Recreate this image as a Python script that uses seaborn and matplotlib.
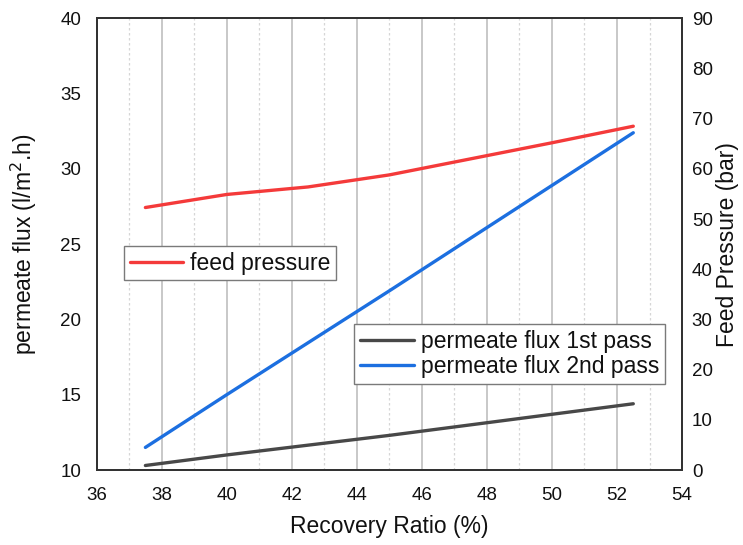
import numpy as np
import pandas as pd
import matplotlib
matplotlib.use("Agg")
import matplotlib.pyplot as plt
import seaborn as sns
from matplotlib.ticker import MultipleLocator

# values
recovery = [37.5, 40.0, 42.5, 45.0, 47.5, 50.0, 52.5]
flux_1st = [10.3, 11.0, 11.65, 12.3, 13.0, 13.7, 14.4]
flux_2nd = [11.5, 15.0, 18.45, 21.9, 25.4, 28.9, 32.4]
feed_pressure = [52.3, 54.9, 56.4, 58.8, 62.0, 65.2, 68.5]

x_ticks = list(range(36, 55, 2))
left_ticks = list(range(10, 41, 5))
right_ticks = list(range(0, 91, 10))

sns.set_style("white")
plt.rcParams["font.family"] = ["Liberation Sans", "DejaVu Sans"]
plt.rcParams["text.color"] = "#111111"
plt.rcParams["axes.labelcolor"] = "#111111"
plt.rcParams["xtick.color"] = "#111111"
plt.rcParams["ytick.color"] = "#111111"

df = pd.DataFrame({
    "recovery": recovery,
    "flux_1st": flux_1st,
    "flux_2nd": flux_2nd,
    "feed_pressure": feed_pressure,
})

RED = "#f43a3a"
BLUE = "#1c6fe0"
GREY = "#484848"
LW = 2.4

fig = plt.figure(figsize=(7.43, 5.45), dpi=100)
ax = fig.add_axes([0.130, 0.1376, 0.788, 0.8288])
ax2 = ax.twinx()

sns.lineplot(data=df, x="recovery", y="flux_1st", ax=ax, color=GREY, lw=LW,
             label="permeate flux 1st pass")
sns.lineplot(data=df, x="recovery", y="flux_2nd", ax=ax, color=BLUE, lw=LW,
             label="permeate flux 2nd pass")
sns.lineplot(data=df, x="recovery", y="feed_pressure", ax=ax2, color=RED, lw=LW,
             label="feed pressure")

ax.set_xlim(36, 54)
ax.set_ylim(10, 40)
ax2.set_ylim(0, 90)
ax.set_xticks(x_ticks)
ax.set_yticks(left_ticks)
ax2.set_yticks(right_ticks)
ax.xaxis.set_minor_locator(MultipleLocator(1))

# vertical grid only: solid majors, dashed minors
ax.grid(False)
ax2.grid(False)
ax.grid(True, which="major", axis="x", color="#c4c4c4", lw=1.3, ls="-")
ax.grid(True, which="minor", axis="x", color="#d6d6d6", lw=0.9, ls=(0, (2, 2)))
ax.set_axisbelow(True)

for a in (ax, ax2):
    a.tick_params(axis="both", which="both", length=0, labelsize=13.5)
    for s in a.spines.values():
        s.set_color("#333333")
        s.set_linewidth(1.4)
ax.tick_params(axis="y", pad=11)
ax.tick_params(axis="x", pad=12)
ax2.tick_params(axis="y", pad=7)

ax.set_xlabel("Recovery Ratio (%)", fontsize=16.5, labelpad=8)
ax.set_ylabel("permeate flux (l/m$^2$.h)", fontsize=16.5, labelpad=15)
ax2.set_ylabel("Feed Pressure (bar)", fontsize=16.5, labelpad=2)

leg_kw = dict(fontsize=16.5, frameon=True, fancybox=False, borderpad=0.25,
              handlelength=2.35, handletextpad=0.3, labelspacing=0.1,
              borderaxespad=0)
leg2 = ax.legend(loc="lower right", bbox_to_anchor=(0.9705, 0.190), **leg_kw)
leg1 = ax2.legend(loc="upper left", bbox_to_anchor=(0.0466, 0.496), **leg_kw)
for lg in (leg1, leg2):
    lg.get_frame().set_edgecolor("#7a7a7a")
    lg.get_frame().set_linewidth(1.0)
    lg.get_frame().set_alpha(1)

fig.savefig("out.png", dpi=100)
